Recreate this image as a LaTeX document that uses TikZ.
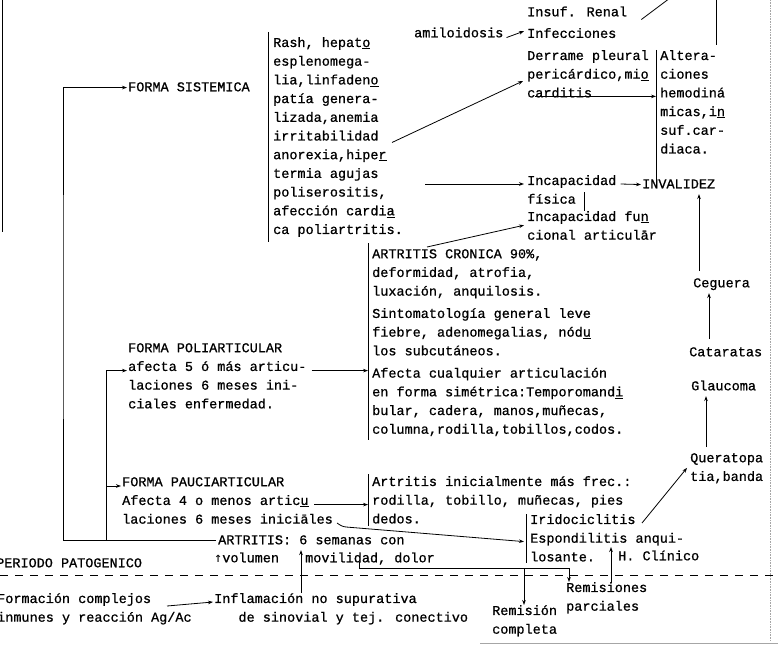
\documentclass[tikz,border=0pt]{standalone}
\usepackage{fontspec}
\newfontfamily\tw[FakeBold=0.8]{Liberation Mono}
\newfontfamily\twarr{DejaVu Sans Mono}
\usetikzlibrary{arrows.meta,positioning}
\tikzset{
  txt/.style={font=\fontsize{13.5}{18.7}\selectfont\tw, align=left, inner sep=0pt,
              anchor=north west, execute at begin node=\strut},
  sig/.style={-{Stealth[length=5pt,width=3.6pt]}, line width=0.8pt},
  ln/.style={line width=0.8pt},
  boxl/.style={line width=0.7pt},
  edgel/.style={black!35, line width=0.6pt},
}
\begin{document}
\begin{tikzpicture}[x=1pt,y=-1pt]
    \useasboundingbox (0,0) rectangle (778,647);
    \node[txt] (sist) at (128,78) {FORMA SISTEMICA};
    \node[txt] (sinto) at (273,37) {Rash, hepat\underline{o}\\esplenomega-\\lia,linfaden\underline{o}\\patía genera-\\lizada,anemia\\irritabilidad\\anorexia,hipe\underline{r}\\termia agujas\\poliserositis,\\afección cardi\underline{a}\\ca poliartritis.};
    \node[txt] (amilo) at (414,24) {amiloidosis};
    \node[txt] (insuf) at (527,3) {Insuf. Renal};
    \node[txt,below=2.5pt of insuf.south west,anchor=north west] (infec) {Infecciones};
    \node[txt] (derr) at (527,50) {Derrame pleural\\pericárdico,mi\underline{o}\\carditis};
    \node[txt] (alter) at (660,50) {Altera-\\ciones\\hemodiná\\micas,i\underline{n}\\suf.car-\\diaca.};
    \node[txt] (inca) at (527,175) {Incapacidad\\física};
    \node[txt] (inval) at (642,175) {INVALIDEZ};
    \node[txt] (incf) at (527,211) {Incapacidad fu\underline{n}\\cional articul\=ar};
    \node[txt] (ceg) at (693,274) {Ceguera};
    \node[txt] (catar) at (689,343) {Cataratas};
    \node[txt] (glauc) at (691,377) {Glaucoma};
    \node[txt] (kera) at (690,453) {Queratopa\\tia,banda};
    \node[txt] (cronica) at (372,249) {ARTRITIS CRONICA 90\%,\\deformidad, atrofia,\\luxación, anquilosis.};
    \node[txt,below=6.5pt of cronica.south west,anchor=north west] (sintgen) {Sintomatología general leve\\fiebre, adenomegalias, nód\underline{u}\\los subcutáneos.};
    \node[txt,below=6.5pt of sintgen.south west,anchor=north west] (afecta) {Afecta cualquier articulación\\en forma simétrica:Temporomand\underline{i}\\bular, cadera, manos,muñecas,\\columna,rodilla,tobillos,codos.};
    \node[txt] (poli) at (128,343) {FORMA POLIARTICULAR\\afecta 5 ó más articu-\\laciones 6 meses ini-\\ciales enfermedad.};
    \node[txt] (pauci) at (122,477) {FORMA PAUCIARTICULAR\\Afecta 4 o menos artic\underline{u}\\laciones 6 meses inici\=ales};
    \node[txt] (artini) at (372,476) {Artritis inicialmente más frec.:\\rodilla, tobillo, muñecas, pies\\dedos.};
    \node[txt] (irido) at (530,514) {Iridociclitis\\Espondilitis anqui-\\losante.};
    \node[txt] (artr) at (218,531) {ARTRITIS: 6 semanas con};
    \node[txt] (vol) at (214,549) {{\twarr ↑}volumen};
    \node[txt] (movil) at (305,549) {movilidad, dolor};
    \node[txt] (perio) at (-4,554) {PERIODO PATOGENICO};
    \node[txt] (form) at (-3,593) {Formación complejos\\inmunes y reacción Ag/Ac};
    \node[txt] (inflam) at (214,593) {Inflamación no supurativa\\\phantom{Inf}de sinovial y tej. conectivo};
    \node[txt] (remcomp) at (492,605) {Remisión\\completa};
    \node[txt] (remparc) at (566,582) {Remisiones\\parciales};
    \node[txt] (hclin) at (618,547) {H. Clínico};

    \coordinate (lt) at (2,0);
    \coordinate (lb) at (2,232);
    \coordinate (trunkA) at (63,300);
    \coordinate (trunkB) at (106,450);
    \coordinate (topA) at (670,-2);
    \coordinate (topB) at (716,-2);
    \coordinate (tk) at (584,0);
    \coordinate (hb) at (611,583);
    \draw[ln] (lt) -- (lb);
    \draw[sig] ([xshift=-2pt]artr.west) -| (trunkA) |- ([xshift=-1pt]sist.west);
    \draw[sig] (trunkB |- artr.west) |- ([xshift=-1pt,yshift=-27.6pt]poli.north west);
    \path ([xshift=-1pt,yshift=-9pt]pauci.north west) coordinate (pc1);
    \draw[sig] (trunkB |- pc1) -- (pc1);

    \draw[boxl] ([xshift=-5pt,yshift=5pt]sinto.north west) -- ([xshift=-5pt,yshift=-2pt]sinto.south west);
    \draw[boxl] ([xshift=-4pt,yshift=6pt]cronica.north west) coordinate (boxA) -- ([xshift=-4pt]afecta.south west);
    \draw[boxl] ([xshift=-4pt,yshift=2pt]artini.north west) coordinate (boxB) -- ([xshift=-4pt,yshift=3pt]artini.south west);
    \draw[boxl] ([xshift=-4pt]irido.north west) -- ([xshift=-4pt,yshift=4pt]irido.south west);
    \draw[boxl] ([xshift=-4pt]alter.north west) coordinate (alterL) -- ([xshift=-4pt,yshift=-24pt]alter.south west);

    \draw[sig] ([xshift=3pt,yshift=-4pt]amilo.east) -- ([xshift=-3pt,yshift=3pt]infec.west);
    \draw[ln] ([xshift=14pt,yshift=-7pt]insuf.east) -- (topA);
    \path (alter.north -| topB) coordinate (ab);
    \draw[ln] ([yshift=5pt]ab) -- (topB);
    \draw[sig] ([xshift=119pt,yshift=-105.5pt]sinto.north west) -- ([xshift=-4pt,yshift=-31pt]derr.north west);
    \path ([xshift=8pt,yshift=-46.4pt]derr.north west) coordinate (dc);
    \draw[sig] (dc) -- (dc -| alterL);
    \path ([xshift=22pt]sinto.east) coordinate (se);
    \path ([xshift=-3pt,yshift=-9pt]inca.north west) coordinate (ic1);
    \draw[sig] (se |- ic1) -- (ic1);
    \draw[sig] ([xshift=4pt,yshift=-9pt]inca.north east) -- ([xshift=-1pt]inval.west);
    \draw[ln] (tk |- inca.west) -- (tk |- incf.north);
    \draw[sig] ([xshift=55pt,yshift=2pt]cronica.north west) -- ([xshift=-3pt,yshift=3pt]incf.west);
    \path ([xshift=6pt,yshift=3pt]ceg.north west) coordinate (cg);
    \draw[sig] (cg) -- (cg |- inval.south);
    \path ([xshift=20pt,yshift=4pt]catar.north west) coordinate (ct);
    \draw[sig] (ct) -- (ct |- ceg.south);
    \path ([xshift=16pt,yshift=6pt]kera.north west) coordinate (kg);
    \draw[sig] (kg) -- (kg |- glauc.south);

    \path ([xshift=5pt,yshift=-27.6pt]poli.north east) coordinate (pl2);
    \draw[sig] (pl2) -- (pl2 -| boxA);
    \path ([xshift=192pt,yshift=-27.6pt]pauci.north west) coordinate (pa2);
    \draw[sig] (pa2) -- (pa2 -| boxB);
    \draw[sig] ([xshift=4pt,yshift=-46pt]pauci.north east) to[out=-35,in=174] ++(9,4) -- ([xshift=-6pt,yshift=-27.6pt]irido.north west);
    \draw[sig] ([xshift=112pt,yshift=-9pt]irido.north west) -- ([xshift=-3pt,yshift=2pt]kera.west);

    \path ([xshift=-4pt]movil.west) coordinate (mv);
    \draw[sig] (mv |- inflam.north) -- (mv |- artr.south);
    \draw[sig] ([xshift=170pt,yshift=-13pt]form.north west) -- ([xshift=-1pt,yshift=-9pt]inflam.north west);
    \path ([xshift=54pt]movil.base west) coordinate (ms);
    \draw[sig] (ms) -- ++(0,6) coordinate (hl) -| ([xshift=3pt]remparc.north west);
    \path ([xshift=32pt]remcomp.north west) coordinate (rc);
    \draw[sig] (hl -| rc) -- (rc);
    \draw[sig] (hb) -- (hb |- hclin.north);

    \draw[ln,dash pattern=on 8pt off 7pt] (0,575) -- (778,575);
    \draw[edgel,densely dotted] (770,0) -- (770,641);
    \draw[edgel] (480,643) -- (778,643);
  \end{tikzpicture}
\end{document}
